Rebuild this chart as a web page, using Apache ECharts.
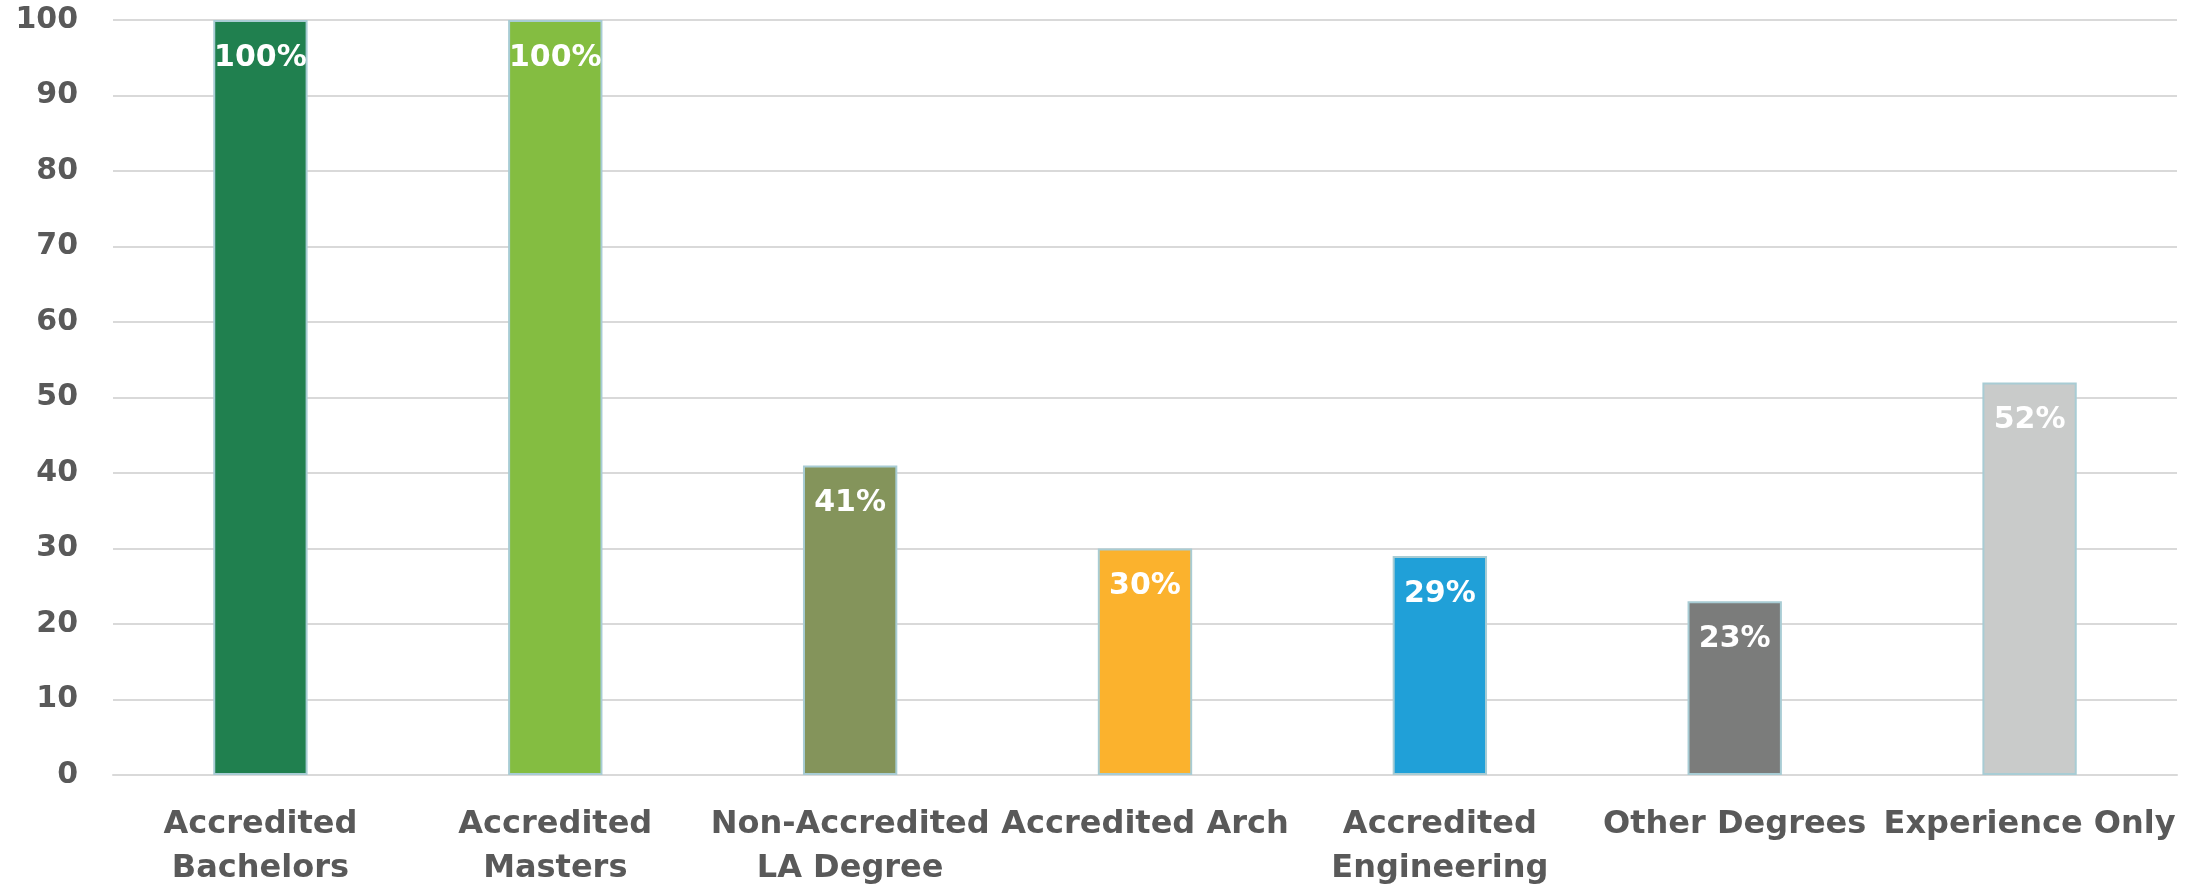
<!DOCTYPE html>
<html>
<head>
<meta charset="utf-8">
<script src="https://cdn.jsdelivr.net/npm/echarts@6/dist/echarts.min.js"></script>
<style>
  html, body { margin: 0; padding: 0; background: #fff; }
  #chart { width: 2195px; height: 885px; }
</style>
</head>
<body>
<div id="chart"></div>
<script>
const categories = [
  'Accredited\nBachelors',
  'Accredited\nMasters',
  'Non-Accredited\nLA Degree',
  'Accredited Arch',
  'Accredited\nEngineering',
  'Other Degrees',
  'Experience Only'
];
const values = [100, 100, 41, 30, 29, 23, 52];
const barColors = ['#20804f', '#84bd41', '#84945b', '#fbb22d', '#20a0d8', '#7b7c7b', '#c9cbca'];
const yTicks = { min: 0, max: 100, interval: 10 };

const chart = echarts.init(document.getElementById('chart'), null, { renderer: 'canvas' });

const option = {
  animation: false,
  grid: { left: 113, right: 18, top: 20, bottom: 110, outerBoundsMode: 'none', containLabel: false },
  xAxis: {
    type: 'category',
    data: categories,
    axisTick: { show: false },
    axisLine: { lineStyle: { color: '#d9d9d9', width: 2 } },
    axisLabel: {
      interval: 0,
      margin: 28,
      color: '#595959',
      fontFamily: 'DejaVu Sans',
      fontWeight: 'bold',
      fontSize: 32,
      lineHeight: 44
    }
  },
  yAxis: {
    type: 'value',
    min: yTicks.min,
    max: yTicks.max,
    interval: yTicks.interval,
    axisLine: { show: false },
    axisTick: { show: false },
    splitLine: { lineStyle: { color: '#d9d9d9', width: 2 } },
    axisLabel: {
      margin: 35,
      color: '#595959',
      fontFamily: 'DejaVu Sans',
      fontWeight: 'bold',
      fontSize: 30
    }
  },
  series: [{
    type: 'bar',
    barWidth: '32%',
    data: values.map((v, i) => ({
      value: v,
      itemStyle: { color: barColors[i] }
    })),
    itemStyle: { borderColor: '#a8ccd4', borderWidth: 2 },
    label: {
      show: true,
      position: 'insideTop',
      distance: 23,
      color: '#fff',
      fontFamily: 'DejaVu Sans',
      fontWeight: 'bold',
      fontSize: 30,
      formatter: p => p.value + '%'
    }
  }]
};

chart.setOption(option);
</script>
</body>
</html>
